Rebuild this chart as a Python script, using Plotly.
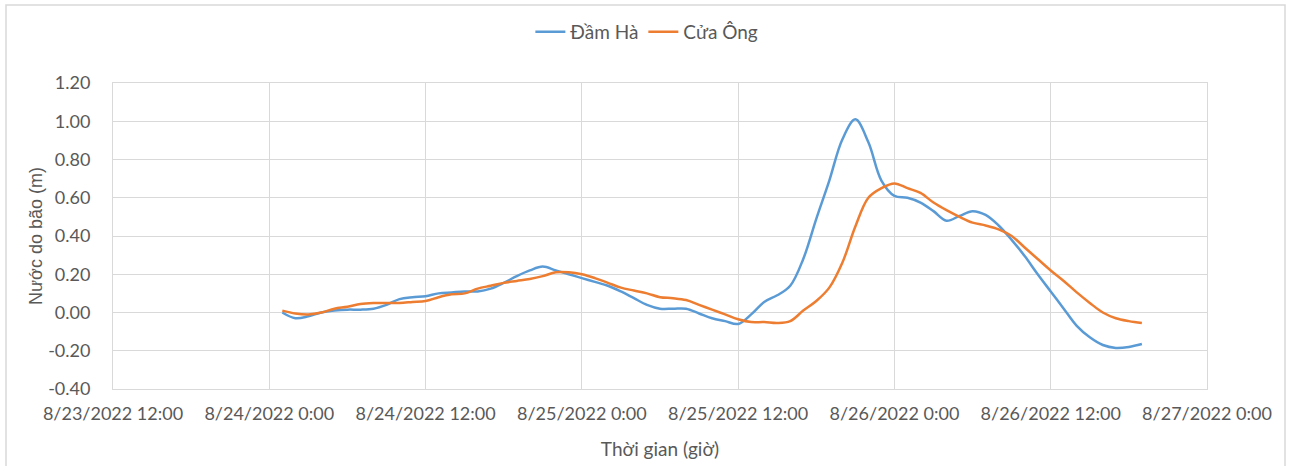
import pandas as pd
import plotly.graph_objects as go

# Hourly data from 8/24/2022 1:00 to 8/26/2022 19:00
start_time = "2022-08-24 01:00"
n_hours = 67
dam_ha = [0.00, -0.03, -0.02, 0.00, 0.01, 0.015, 0.015, 0.02, 0.04, 0.07,
          0.08, 0.085, 0.10, 0.105, 0.11, 0.11, 0.125, 0.155, 0.19, 0.22,
          0.24, 0.22, 0.20, 0.18, 0.16, 0.14, 0.11, 0.075, 0.04, 0.02,
          0.02, 0.02, -0.005, -0.03, -0.045, -0.06, -0.01, 0.055, 0.09, 0.14,
          0.28, 0.49, 0.69, 0.905, 1.01, 0.89, 0.69, 0.61, 0.60, 0.575,
          0.53, 0.48, 0.505, 0.53, 0.51, 0.455, 0.38, 0.295, 0.20, 0.11,
          0.02, -0.07, -0.13, -0.17, -0.185, -0.18, -0.165]
cua_ong = [0.01, -0.005, -0.01, 0.00, 0.02, 0.03, 0.045, 0.05, 0.05, 0.05,
           0.055, 0.06, 0.08, 0.095, 0.10, 0.125, 0.14, 0.155, 0.165, 0.175,
           0.19, 0.21, 0.21, 0.20, 0.18, 0.155, 0.13, 0.115, 0.10, 0.08,
           0.075, 0.065, 0.04, 0.015, -0.01, -0.035, -0.05, -0.05, -0.055, -0.045,
           0.01, 0.06, 0.13, 0.26, 0.45, 0.60, 0.65, 0.675, 0.65, 0.625,
           0.575, 0.535, 0.50, 0.47, 0.455, 0.435, 0.40, 0.34, 0.28, 0.22,
           0.165, 0.105, 0.05, 0.00, -0.03, -0.045, -0.055]

x_tick_vals = ["2022-08-23 12:00", "2022-08-24 00:00", "2022-08-24 12:00",
               "2022-08-25 00:00", "2022-08-25 12:00", "2022-08-26 00:00",
               "2022-08-26 12:00", "2022-08-27 00:00"]
x_tick_text = ["8/23/2022 12:00", "8/24/2022 0:00", "8/24/2022 12:00",
               "8/25/2022 0:00", "8/25/2022 12:00", "8/26/2022 0:00",
               "8/26/2022 12:00", "8/27/2022 0:00"]
y_tick_vals = [-0.4, -0.2, 0.0, 0.2, 0.4, 0.6, 0.8, 1.0, 1.2]
y_tick_text = ["-0.40", "-0.20", "0.00", "0.20", "0.40", "0.60", "0.80", "1.00", "1.20"]

times = pd.date_range(start_time, periods=n_hours, freq="h")

FONT = "Lato"
GRID = "#d9d9d9"
TXT = "#595959"

fig = go.Figure()
fig.add_trace(go.Scatter(x=times, y=dam_ha, name="Đầm Hà", mode="lines",
                         line=dict(color="#5B9BD5", width=2.5, shape="spline", smoothing=1)))
fig.add_trace(go.Scatter(x=times, y=cua_ong, name="Cửa Ông", mode="lines",
                         line=dict(color="#ED7D31", width=2.5, shape="spline", smoothing=1)))

fig.update_layout(
    width=1291, height=466,
    margin=dict(l=113, r=84, t=83, b=77, autoexpand=False),
    paper_bgcolor="white", plot_bgcolor="white",
    font=dict(family=FONT, size=17, color=TXT),
    legend=dict(orientation="h", x=0.488, xanchor="center", y=(389 - 32) / 306, yanchor="middle",
                font=dict(size=19, color=TXT), tracegroupgap=0),
    showlegend=True,
)
fig.update_xaxes(
    range=[x_tick_vals[0], x_tick_vals[-1]],
    tickvals=x_tick_vals, ticktext=x_tick_text,
    showgrid=True, gridcolor=GRID, gridwidth=1,
    showline=True, linecolor=GRID, mirror=True,
    ticks="", ticklabelstandoff=8,
    tickfont=dict(size=18, color=TXT),
    title=dict(text="Thời gian (giờ)", font=dict(size=19, color=TXT), standoff=20),
)
fig.update_yaxes(
    range=[-0.4, 1.2],
    tickvals=y_tick_vals, ticktext=y_tick_text,
    showgrid=True, gridcolor=GRID, gridwidth=1,
    zeroline=True, zerolinecolor=GRID, zerolinewidth=1,
    showline=True, linecolor=GRID, mirror=True,
    ticks="", ticklabelstandoff=18,
    tickfont=dict(size=18, color=TXT),
    title=dict(text="Nước do bão (m)", font=dict(family="Liberation Sans", size=18, color=TXT), standoff=0),
)
# outer chart border
fig.add_shape(type="rect", xref="paper", yref="paper",
              x0=(6 - 113) / 1094, x1=(1285 - 113) / 1094,
              y0=(389 - 470) / 306, y1=(389 - 5) / 306,
              line=dict(color=GRID, width=1.5), layer="below")

fig.write_html("out.html", config={"displayModeBar": False},
               post_script="document.body.style.margin='0';")
